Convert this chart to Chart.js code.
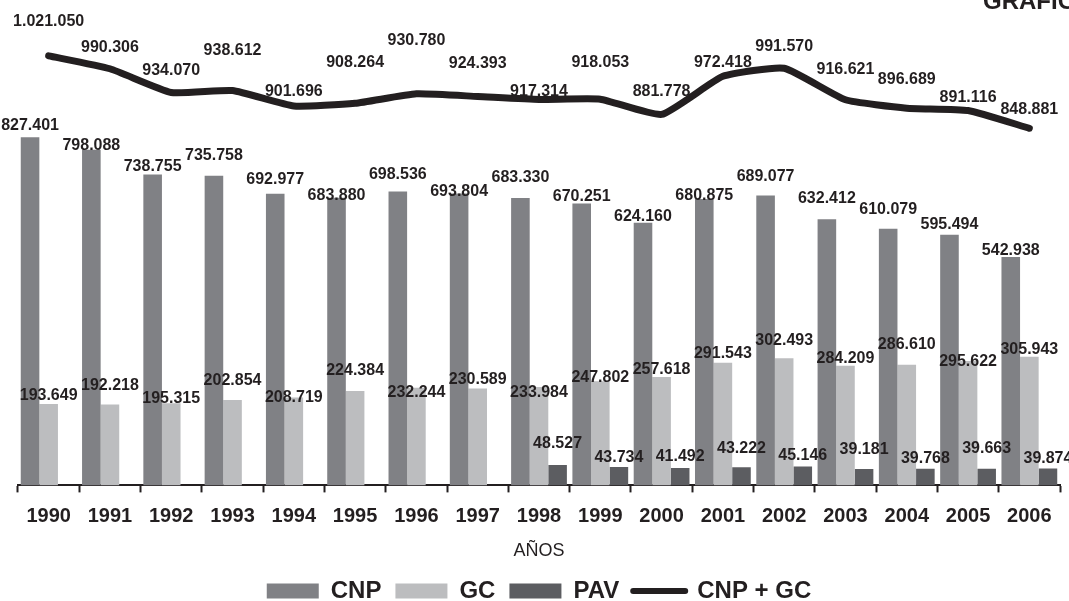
<!DOCTYPE html>
<html>
<head>
<meta charset="utf-8">
<script src="https://cdn.jsdelivr.net/npm/chart.js@4"></script>
<style>
  body { margin: 0; background: #fff; }
  #wrap { width: 1069px; height: 601px; position: relative; }
</style>
</head>
<body>
<div id="wrap"><canvas id="myChart"></canvas></div>
<script>
// data
const years = ['1990', '1991', '1992', '1993', '1994', '1995', '1996', '1997', '1998',
               '1999', '2000', '2001', '2002', '2003', '2004', '2005', '2006'];
const cnp = [827401, 798088, 738755, 735758, 692977, 683880, 698536, 693804, 683330,
             670251, 624160, 680875, 689077, 632412, 610079, 595494, 542938];
const gc = [193649, 192218, 195315, 202854, 208719, 224384, 232244, 230589, 233984,
            247802, 257618, 291543, 302493, 284209, 286610, 295622, 305943];
const pav = [null, null, null, null, null, null, null, null, 48527,
             43734, 41492, 43222, 45146, 39181, 39768, 39663, 39874];
const cnpGc = [1021050, 990306, 934070, 938612, 901696, 908264, 930780, 924393, 917314,
               918053, 881778, 972418, 991570, 916621, 896689, 891116, 848881];

// how far each value label sits above its mark (px)
const cnpLift = [12, 4, 8, 20, 14, 2, 17, 2, 20, 7, 6, 3, 19, 21, 19, 10, 6];
const gcLift = [8, 19, 5, 19, 0, 20, -5, 9, -6, 4, 7, 9, 18, 7, 20, -1, 7];
const pavLift = [0, 0, 0, 0, 0, 0, 0, 0, 21, 9, 11, 19, 11, 19, 10, 20, 10];
const totalLift = [34, 21, 22, 40, 14, 41, 53, 33, 8, 37, 23, 14, 22, 30, 29, 13, 19];

const ink = '#231f20';
const fontFam = '"Liberation Sans", Arial, sans-serif';

function fmt(v) {
    return String(v).replace(/\B(?=(\d{3})+(?!\d))/g, '.');
}

// value labels + the cut-off heading in the top right corner
const valueLabels = {
    id: 'valueLabels',
    afterDatasetsDraw(chart) {
        const ctx = chart.ctx;
        ctx.save();
        ctx.fillStyle = ink;
        ctx.font = 'bold 16px ' + fontFam;
        ctx.textAlign = 'center';
        ctx.textBaseline = 'middle';
        chart.data.datasets.forEach((ds, di) => {
            const meta = chart.getDatasetMeta(di);
            meta.data.forEach((el, i) => {
                const v = ds.data[i];
                if (v == null) return;
                ctx.fillText(fmt(v), el.x, el.y - ds.lift[i]);
            });
        });
        ctx.font = 'bold 24px ' + fontFam;
        ctx.textAlign = 'left';
        ctx.textBaseline = 'alphabetic';
        ctx.fillText('GRÁFICO 1', 983, 9);
        ctx.restore();
    }
};

const ctx = document.getElementById('myChart').getContext('2d');
const myChart = new Chart(ctx, {
    data: {
        labels: years,
        datasets: [{
            type: 'line',
            label: 'CNP + GC',
            data: cnpGc,
            lift: totalLift,
            borderColor: ink,
            backgroundColor: ink,
            borderWidth: 7,
            borderCapStyle: 'round',
            borderJoinStyle: 'round',
            tension: 0.15,
            pointRadius: 0,
            order: 0
        }, {
            type: 'bar',
            label: 'CNP',
            data: cnp,
            lift: cnpLift,
            backgroundColor: '#808185',
            order: 1
        }, {
            type: 'bar',
            label: 'GC',
            data: gc,
            lift: gcLift,
            backgroundColor: '#bcbdbf',
            order: 2
        }, {
            type: 'bar',
            label: 'PAV',
            data: pav,
            lift: pavLift,
            backgroundColor: '#5c5d61',
            order: 3
        }]
    },
    options: {
        responsive: true,
        maintainAspectRatio: false,
        animation: false,
        layout: { padding: { left: 18, right: 9, top: 10, bottom: -12 } },
        datasets: {
            bar: { categoryPercentage: 0.91, barPercentage: 1.0, borderWidth: 0 }
        },
        scales: {
            x: {
                offset: true,
                grid: {
                    offset: true,
                    drawOnChartArea: false,
                    drawTicks: true,
                    tickLength: 7,
                    tickWidth: 2,
                    tickColor: ink
                },
                border: { display: true, color: ink, width: 2 },
                ticks: {
                    color: ink,
                    padding: 12,
                    font: { family: fontFam, size: 20, weight: 'bold' }
                },
                title: {
                    display: true,
                    text: 'AÑOS',
                    color: ink,
                    padding: { top: 0, bottom: 3 },
                    font: { family: fontFam, size: 18 }
                }
            },
            y: {
                display: false,
                min: 0,
                max: 1130000
            }
        },
        plugins: {
            tooltip: { enabled: false },
            legend: {
                position: 'bottom',
                labels: {
                    color: ink,
                    usePointStyle: true,
                    pointStyleWidth: 52,
                    boxHeight: 15,
                    padding: 14,
                    font: { family: fontFam, size: 24, weight: 'bold' },
                    generateLabels(chart) {
                        const order = [1, 2, 3, 0];
                        return order.map(i => {
                            const ds = chart.data.datasets[i];
                            const isLine = ds.type === 'line';
                            return {
                                text: ds.label,
                                datasetIndex: i,
                                fillStyle: ds.backgroundColor,
                                strokeStyle: isLine ? ink : ds.backgroundColor,
                                lineWidth: isLine ? 6 : 0,
                                lineCap: 'round',
                                pointStyle: isLine ? 'line' : 'rect',
                                fontColor: ink,
                                hidden: false
                            };
                        });
                    }
                }
            }
        }
    },
    plugins: [valueLabels]
});
</script>
</body>
</html>
